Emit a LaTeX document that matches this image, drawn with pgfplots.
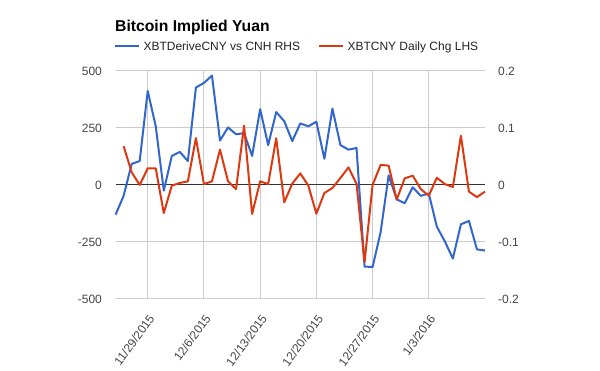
\documentclass[border=0pt]{standalone}
\usepackage{fontspec}
\setmainfont{Liberation Sans}
\usepackage{pgfplots}
\pgfplotsset{compat=1.18}
\definecolor{gblue}{HTML}{3366CC}
\definecolor{gred}{HTML}{DC3912}
\definecolor{ggrid}{HTML}{CCCCCC}
\definecolor{gtick}{HTML}{444444}
\definecolor{gzero}{HTML}{333333}
\definecolor{glegend}{HTML}{222222}
\begin{document}
\begin{tikzpicture}
\useasboundingbox (0pt,0pt) rectangle (600pt,371pt);
\begin{axis}[at={(115.6pt,72pt)}, anchor=south west, scale only axis,
  width=369.4pt, height=228pt,
  xmin=-4, xmax=42, ymin=-0.2, ymax=0.2,
  axis line style={draw=none}, tick style={draw=none}, major tick length=0pt,
  yticklabel pos=right,
  ytick={-0.2,-0.1,0,0.1,0.2}, yticklabels={-0.2,-0.1,0,0.1,0.2},
  extra y ticks={0}, extra y tick labels={},
  extra y tick style={grid style={gzero, line width=1pt}},
  xtick={0,7,14,21,28,35},
  xticklabels={11/29/2015,12/6/2015,12/13/2015,12/20/2015,12/27/2015,1/3/2016},
  grid=major, grid style={ggrid, line width=1pt},
  yticklabel style={font=\fontsize{12}{14}\selectfont, text=gtick, inner sep=0pt, anchor=west, xshift=13pt},
  xticklabel style={font=\fontsize{12}{14}\selectfont, text=gtick, inner sep=0pt, yshift=-17pt, xshift=4pt, rotate=54, anchor=east},
  /pgf/number format/assume math mode=true,
  clip=false
]
\addplot[gblue, line width=2pt, line join=round, mark=none] coordinates {
(-4,-0.052) (-3,-0.019) (-2,0.037) (-1,0.042) (0,0.165) (1,0.103) (2,-0.010)
(3,0.051) (4,0.058) (5,0.042) (6,0.171) (7,0.179) (8,0.192) (9,0.078)
(10,0.101) (11,0.089) (12,0.091) (13,0.051) (14,0.133) (15,0.070) (16,0.128)
(17,0.112) (18,0.077) (19,0.108) (20,0.103) (21,0.111) (22,0.046) (23,0.134)
(24,0.070) (25,0.062) (26,0.065) (27,-0.143) (28,-0.144) (29,-0.083) (30,0.017)
(31,-0.025) (32,-0.032) (33,-0.004) (34,-0.019) (35,-0.015) (36,-0.073) (37,-0.099)
(38,-0.129) (39,-0.069) (40,-0.063) (41,-0.113) (42,-0.115)
};
\end{axis}
\begin{axis}[at={(115.6pt,72pt)}, anchor=south west, scale only axis,
  width=369.4pt, height=228pt,
  xmin=-4, xmax=42, ymin=-500, ymax=500,
  hide x axis,
  axis line style={draw=none}, tick style={draw=none}, major tick length=0pt,
  yticklabel pos=left,
  ytick={-500,-250,0,250,500},
  yticklabel style={font=\fontsize{12}{14}\selectfont, text=gtick, inner sep=0pt, anchor=east, xshift=-13.5pt},
  /pgf/number format/assume math mode=true,
  clip=false
]
\addplot[gred, line width=2pt, line join=round, mark=none] coordinates {
(-3,170) (-2,56) (-1,0) (0,73) (1,73) (2,-123) (3,-3) (4,9) (5,16) (6,206)
(7,4) (8,16) (9,155) (10,16) (11,-18) (12,260) (13,-127) (14,16) (15,4)
(16,205) (17,-76) (18,6) (19,51) (20,-3) (21,-126) (22,-35) (23,-13) (24,31)
(25,77) (26,6) (27,-339) (28,0) (29,88) (30,85) (31,-64) (32,29) (33,41)
(34,-18) (35,-47) (36,32) (37,4) (38,-9) (39,216) (40,-29) (41,-53) (42,-29)
};
\end{axis}
\node[anchor=base west, inner sep=0pt, font=\fontsize{15.7}{18}\selectfont\bfseries] at (115pt,339.5pt) {Bitcoin Implied Yuan};
\draw[gblue, line width=2pt] (115pt,325pt) -- (139pt,325pt);
\node[anchor=base west, inner sep=0pt, text=glegend, font=\fontsize{12}{14}\selectfont] at (143.3pt,320.5pt) {XBTDeriveCNY vs CNH RHS};
\draw[gred, line width=2pt] (319pt,325pt) -- (342.5pt,325pt);
\node[anchor=base west, inner sep=0pt, text=glegend, font=\fontsize{12}{14}\selectfont] at (347.3pt,320.5pt) {XBTCNY Daily Chg LHS};
\end{tikzpicture}
\end{document}
